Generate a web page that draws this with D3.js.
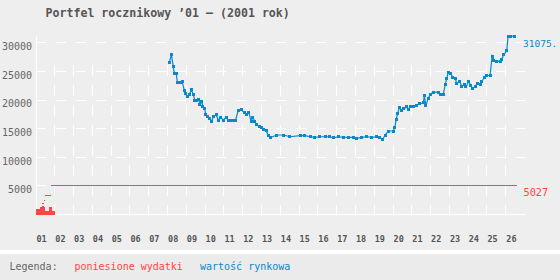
<!DOCTYPE html>
<html>
<head>
<meta charset="utf-8">
<script src="https://cdn.jsdelivr.net/npm/d3@7"></script>
<style>
    body { margin: 0; background: #eeeeee; }
    svg { display: block; font-family: "DejaVu Sans Mono", monospace; }
</style>
</head>
<body>
<svg width="560" height="280"></svg>
<script>
const title = 'Portfel rocznikowy ’01 – (2001 rok)';
const miesiace = ['01','02','03','04','05','06','07','08','09','10','11','12','13',
    '14','15','16','17','18','19','20','21','22','23','24','25','26'];
const yTicks = [5000, 10000, 15000, 20000, 25000, 30000];

// wartosc rynkowa (miesiac, zl)
const rynekX = [7.12, 7.23, 7.33, 7.39, 7.49, 7.55, 7.69, 7.80, 7.92, 7.97, 8.08, 8.19, 8.29, 8.40,
    8.47, 8.58, 8.69, 8.75, 8.86, 8.90, 9.00, 9.06, 9.16, 9.25, 9.38, 9.46, 9.61, 9.73, 9.86, 9.99,
    10.14, 10.26, 10.39, 10.53, 10.65, 10.78, 10.94, 11.10, 11.24, 11.36, 11.47, 11.56, 11.67, 11.77,
    11.91, 12.02, 12.12, 12.27, 12.39, 12.48, 12.84, 13.19, 13.54, 14.08, 14.34, 14.61, 14.87, 15.14,
    15.41, 15.67, 15.85, 16.12, 16.38, 16.65, 16.91, 17.09, 17.36, 17.63, 17.89, 18.16, 18.33, 18.48,
    18.60, 18.78, 19.04, 19.13, 19.19, 19.28, 19.36, 19.49, 19.61, 19.76, 19.84, 19.98, 20.11, 20.29,
    20.46, 20.64, 20.69, 20.78, 20.90, 21.00, 21.17, 21.44, 21.56, 21.70, 21.81, 21.88, 21.97, 22.10,
    22.20, 22.33, 22.42, 22.59, 22.68, 22.81, 22.91, 23.05, 23.16, 23.27, 23.39, 23.51, 23.66, 23.76,
    23.87, 24.01, 24.19, 24.30, 24.40, 24.54, 24.72, 24.81, 24.93, 25.08, 25.15, 25.30, 25.47];
const rynekV = [26400, 27900, 25800, 24500, 24500, 23000, 22900, 23200, 21600, 21000, 20500, 20900,
    21700, 20900, 19900, 19800, 20000, 19200, 19600, 18700, 18400, 17400, 17100, 16700, 16200, 17000,
    17300, 16400, 16900, 16400, 16900, 16400, 16300, 16300, 16400, 18000, 18300, 17700, 17300, 17700,
    16200, 16900, 16200, 15600, 15300, 15100, 14800, 14600, 13700, 13300, 13800, 13800, 13500, 13700,
    13700, 13500, 13400, 13500, 13500, 13500, 13300, 13500, 13400, 13400, 13400, 13200, 13400, 13500,
    13400, 13500, 13400, 13000, 13800, 14500, 14500, 15200, 16500, 17600, 18600, 18100, 18400, 18700,
    18300, 18800, 18800, 19000, 19300, 19400, 20700, 19000, 20200, 20900, 21300, 21300, 20800, 20900,
    22700, 23600, 24800, 24600, 23800, 23700, 22800, 23200, 22200, 22700, 22200, 23200, 22500, 21900,
    22200, 22800, 22700, 23200, 23800, 24200, 24200, 27600, 26900, 26700, 26700, 27000, 27900, 28500,
    31075, 31075, 31075];

// poniesione wydatki: suma narastajaco (miesiac, zl)
const sumaX = [0.34, 0.45, 0.50, 0.52, 0.80, 0.84, 25.6];
const sumaV = [1850, 2450, 2800, 3300, 4350, 5027, 5027];
// pojedyncze zakupy
const zakupyX = [0.03, 0.24, 0.35, 0.45, 0.50, 0.72, 0.88, 1.04];
const zakupyV = [870, 1200, 1400, 1200, 520, 1200, 520, 520];

const niebieski = '#0a88cc';
const czerwony = '#ff4444';

const svg = d3.select('svg');

const x = d3.scaleLinear().domain([0, 26.05]).range([35.5, 525]);
const y = d3.scaleLinear().domain([0, 30000]).range([214, 42.3]);

// legenda - tlo
svg.append('rect')
    .attr('x', 0).attr('y', 254).attr('width', 560).attr('height', 26)
    .attr('fill', '#ebebeb');
svg.append('rect')
    .attr('x', 0).attr('y', 250).attr('width', 560).attr('height', 4)
    .attr('fill', '#fff');

svg.append('text')
    .attr('x', 45.5).attr('y', 16.5)
    .attr('font-size', 11.6).attr('font-weight', 'bold')
    .attr('fill', '#555')
    .text(title);

const grid = svg.append('g').attr('shape-rendering', 'crispEdges');

// siatka pozioma
grid.selectAll('line.h')
    .data(yTicks)
    .enter().append('line')
    .attr('class', 'h')
    .attr('x1', 36).attr('x2', 525)
    .attr('y1', d => Math.round(y(d)) + 0.5)
    .attr('y2', d => Math.round(y(d)) + 0.5)
    .attr('stroke', '#fff')
    .attr('stroke-dasharray', '10,10');

// siatka pionowa (od dolu)
grid.selectAll('line.v')
    .data(miesiace.slice(1))
    .enter().append('line')
    .attr('class', 'v')
    .attr('x1', (d, i) => Math.round(x(i + 1)) + 0.5)
    .attr('x2', (d, i) => Math.round(x(i + 1)) + 0.5)
    .attr('y1', 216).attr('y2', 65)
    .attr('stroke', '#fff')
    .attr('stroke-dasharray', '11,9');

// osie
grid.append('line')
    .attr('x1', 36.5).attr('x2', 36.5).attr('y1', 36).attr('y2', 215)
    .attr('stroke', '#fff');
grid.append('line')
    .attr('x1', 36).attr('x2', 525).attr('y1', 214.5).attr('y2', 214.5)
    .attr('stroke', '#fff');

svg.selectAll('text.ytick')
    .data(yTicks)
    .enter().append('text')
    .attr('class', 'ytick')
    .attr('x', 32)
    .attr('y', d => y(d) + 7.8)
    .attr('text-anchor', 'end')
    .attr('font-size', 10)
    .attr('fill', '#666')
    .text(d => d);

svg.selectAll('text.xtick')
    .data(miesiace)
    .enter().append('text')
    .attr('class', 'xtick')
    .attr('x', (d, i) => x(i) + 1)
    .attr('y', 242)
    .attr('font-size', 8.5)
    .attr('font-weight', 'bold')
    .attr('fill', '#555')
    .text(d => d);

// wydatki
const zakupy = zakupyX.map((m, i) => ({m: m, v: zakupyV[i]}));
svg.append('path')
    .datum(zakupy)
    .attr('d', d3.area().curve(d3.curveStepAfter)
        .x(d => x(d.m)).y0(y(0) + 0.5).y1(d => y(d.v)))
    .attr('fill', czerwony)
    .attr('shape-rendering', 'crispEdges');

const suma = sumaX.map((m, i) => ({m: m, v: sumaV[i]}));
svg.append('g')
    .attr('shape-rendering', 'crispEdges')
    .selectAll('line')
    .data(d3.pairs(suma))
    .enter().append('line')
    .attr('x1', d => x(d[0].m)).attr('x2', d => x(d[1].m))
    .attr('y1', d => Math.round(y(d[0].v)) + 0.5)
    .attr('y2', d => Math.round(y(d[0].v)) + 0.5)
    .attr('stroke', czerwony);

// wartosc rynkowa
const rynek = rynekX.map((m, i) => ({m: m, v: rynekV[i]}));
svg.append('path')
    .datum(rynek)
    .attr('d', d3.line().x(d => x(d.m)).y(d => y(d.v)))
    .attr('fill', 'none')
    .attr('stroke', niebieski)
    .attr('stroke-width', 1.2);

svg.append('g')
    .attr('shape-rendering', 'crispEdges')
    .selectAll('rect')
    .data(rynek)
    .enter().append('rect')
    .attr('x', d => Math.round(x(d.m) - 1.5))
    .attr('y', d => Math.round(y(d.v) - 1.5))
    .attr('width', 3).attr('height', 3)
    .attr('fill', niebieski);

// etykiety koncowe
const ostatni = rynek[rynek.length - 1];
svg.append('text')
    .attr('x', 523).attr('y', y(ostatni.v) + 10.8)
    .attr('font-size', 9.5)
    .attr('fill', niebieski)
    .text(ostatni.v + '.');
svg.append('text')
    .attr('x', 523.5).attr('y', y(sumaV[sumaV.length - 1]) + 10.8)
    .attr('font-size', 10.2)
    .attr('fill', czerwony)
    .text(sumaV[sumaV.length - 1]);

// legenda
const legenda = svg.append('g').attr('font-size', 10);
legenda.append('text').attr('x', 9.5).attr('y', 270).attr('fill', '#666').text('Legenda:');
legenda.append('text').attr('x', 74.5).attr('y', 270).attr('fill', czerwony).text('poniesione wydatki');
legenda.append('text').attr('x', 200).attr('y', 270).attr('fill', niebieski).text('wartość rynkowa');
</script>
</body>
</html>
